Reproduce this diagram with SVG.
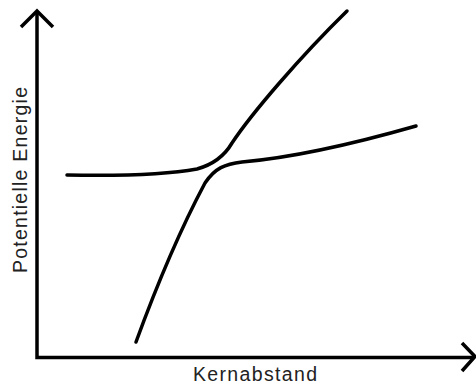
<svg xmlns="http://www.w3.org/2000/svg" width="476" height="383" viewBox="0 0 476 383">
<style>
.ln{fill:none;stroke:#000;stroke-width:3.5;stroke-linecap:butt;stroke-linejoin:miter}
.cv{fill:none;stroke:#000;stroke-width:3.5;stroke-linecap:round}
.lb{font-family:"Liberation Sans",Arial,sans-serif;font-size:19.5px;fill:#222}
</style>
<rect width="476" height="383" fill="#fff"/>
<g id="axes">
<path class="ln" d="M37,12 V357.5 H474"/>
<path class="ln" d="M21,27 L37,11 L53,27"/>
<path class="ln" d="M462,343 L475,356.5 L462,371"/>
</g>
<g id="connectors">
<path class="cv" d="M67,175 C120,176 170,174 197,169 C215,164 225,155 232,143 C252,113 300,57 347,11"/>
<path class="cv" d="M136,342 C155,290 180,230 205,183 C215,168 225,164 242,162 C300,157 360,142 416,126"/>
</g>
<g id="labels">
<text class="lb" x="193" y="380.5" textLength="124" lengthAdjust="spacing">Kernabstand</text>
<text class="lb" transform="translate(27,273) rotate(-90)" x="0" y="0" textLength="186" lengthAdjust="spacing">Potentielle Energie</text>
</g>
</svg>
